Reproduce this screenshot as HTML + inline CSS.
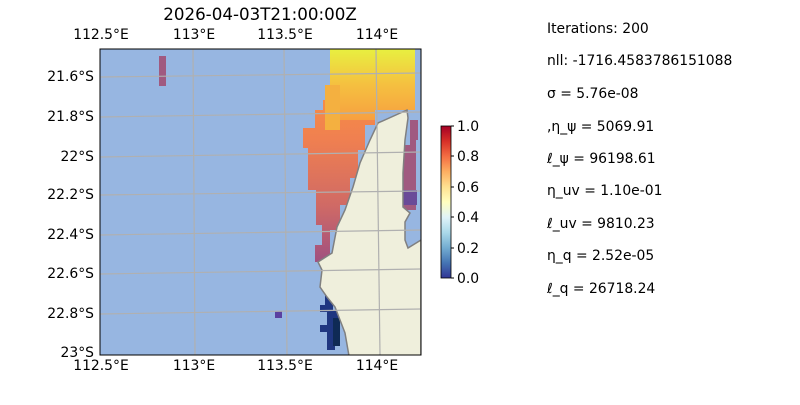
<!DOCTYPE html>
<html><head><meta charset="utf-8"><style>
body{margin:0;background:#fff;width:800px;height:400px;overflow:hidden;font-family:"Liberation Sans","DejaVu Sans",sans-serif}
svg text{font-family:"DejaVu Sans","Liberation Sans",sans-serif;font-size:13.9px;fill:#000}
</style></head><body>
<svg width="800" height="400" viewBox="0 0 800 400">
<defs>
<linearGradient id="cb" x1="0" y1="1" x2="0" y2="0">
<stop offset="0" stop-color="#313695"/><stop offset="0.1" stop-color="#4575b4"/><stop offset="0.2" stop-color="#74add1"/><stop offset="0.3" stop-color="#abd9e9"/><stop offset="0.4" stop-color="#e0f3f8"/><stop offset="0.5" stop-color="#ffffbf"/><stop offset="0.6" stop-color="#fee090"/><stop offset="0.7" stop-color="#fdae61"/><stop offset="0.8" stop-color="#f46d43"/><stop offset="0.9" stop-color="#d73027"/><stop offset="1" stop-color="#a50026"/>
</linearGradient>
<linearGradient id="yo" x1="0" y1="0" x2="0" y2="1">
<stop offset="0" stop-color="#e8f040"/><stop offset="0.5" stop-color="#f5c040"/><stop offset="1" stop-color="#f7a040"/>
</linearGradient>
<linearGradient id="om" x1="0" y1="0" x2="0" y2="1">
<stop offset="0" stop-color="#f99540"/><stop offset="0.35" stop-color="#f08050"/><stop offset="0.7" stop-color="#d06a65"/><stop offset="1" stop-color="#a05080"/>
</linearGradient>
<clipPath id="pa"><rect x="100" y="49" width="321" height="306"/></clipPath>
</defs>
<g clip-path="url(#pa)">
<rect x="100" y="49" width="321" height="306" fill="#97b6e1"/>
<path d="M318,72 H332 V100 H323 V110 H315 V128 H303 V148 H308 V190 H316 V225 H322 V245 H315 V262 H330 V230 H340 V205 H350 V178 H358 V150 H365 V125 H375 V110 H330 V72 Z" fill="url(#om)"/>
<path d="M330,49 H415 V110 H375 V120 H340 V100 H330 Z" fill="url(#yo)"/>
<rect x="325" y="85" width="15" height="45" fill="#f4b040"/>
<path d="M410,120 H418 V140 H416 V210 H403 V145 H410 Z" fill="#a05a80"/>
<rect x="403" y="190" width="14" height="15" fill="#6a4a98"/>
<rect x="159" y="56" width="7" height="30" fill="#a05a80"/>
<rect x="275" y="311" width="7" height="7" fill="#5a40a0"/>
<path d="M325,295 H333 V310 H340 V345 H335 V350 H327 V332 H320 V325 H327 V312 H320 V305 H325 Z" fill="#1f3680"/>
<rect x="333" y="318" width="7" height="28" fill="#0f2a55"/>
<path d="M407,110 L378,123 L370,140 L360,163 L353,187 L345,210 L337,227 L332,253 L318,262 L322,270 L320,287 L327,297 L335,307 L345,333 L349,356 L421,356 L421,240 L408,248 L405,240 L405,222 L410,213 L403,207 L403,173 L405,140 L408,118 Z" fill="#efefdc" stroke="#808080" stroke-width="1.5"/>
<g stroke="#b0b0b0" stroke-width="1.2" fill="none">
<line x1="193" y1="49" x2="195" y2="355"/><line x1="284" y1="49" x2="287" y2="355"/><line x1="376" y1="49" x2="380" y2="355"/>
<line x1="100" y1="77" x2="421" y2="73"/><line x1="100" y1="117" x2="421" y2="112"/><line x1="100" y1="157" x2="421" y2="152"/><line x1="100" y1="195" x2="421" y2="191"/><line x1="100" y1="235" x2="421" y2="230"/><line x1="100" y1="274" x2="421" y2="269"/><line x1="100" y1="314" x2="421" y2="309"/>
</g>
</g>
<rect x="100" y="49" width="321" height="306" fill="none" stroke="#000" stroke-width="1"/>
<text x="260" y="20" text-anchor="middle" style="font-size:16.7px">2026-04-03T21:00:00Z</text>
<g text-anchor="middle">
<text x="101" y="39">112.5°E</text><text x="194" y="39">113°E</text><text x="285" y="39">113.5°E</text><text x="377" y="39">114°E</text>
<text x="101" y="370">112.5°E</text><text x="194" y="370">113°E</text><text x="285" y="370">113.5°E</text><text x="377" y="370">114°E</text>
</g>
<g text-anchor="end">
<text x="94" y="81">21.6°S</text><text x="94" y="121">21.8°S</text><text x="94" y="161">22°S</text><text x="94" y="199">22.2°S</text><text x="94" y="239">22.4°S</text><text x="94" y="278">22.6°S</text><text x="94" y="318">22.8°S</text><text x="94" y="357">23°S</text>
</g>
<rect x="441" y="126" width="10" height="152" fill="url(#cb)" stroke="#000" stroke-width="0.8"/>
<g stroke="#000"><line x1="451" y1="126" x2="454" y2="126"/><line x1="451" y1="156" x2="454" y2="156"/><line x1="451" y1="187" x2="454" y2="187"/><line x1="451" y1="217" x2="454" y2="217"/><line x1="451" y1="248" x2="454" y2="248"/><line x1="451" y1="278" x2="454" y2="278"/></g>
<g><text x="457" y="131">1.0</text><text x="457" y="161">0.8</text><text x="457" y="192">0.6</text><text x="457" y="222">0.4</text><text x="457" y="253">0.2</text><text x="457" y="283">0.0</text></g>
<g>
<text x="547" y="33">Iterations: 200</text>
<text x="547" y="65">nll: -1716.4583786151088</text>
<text x="547" y="98">σ = 5.76e-08</text>
<text x="547" y="131">,η_ψ = 5069.91</text>
<text x="547" y="163">ℓ_ψ = 96198.61</text>
<text x="547" y="195">η_uv = 1.10e-01</text>
<text x="547" y="228">ℓ_uv = 9810.23</text>
<text x="547" y="260">η_q = 2.52e-05</text>
<text x="547" y="293">ℓ_q = 26718.24</text>
</g>
</svg>
</body></html>
